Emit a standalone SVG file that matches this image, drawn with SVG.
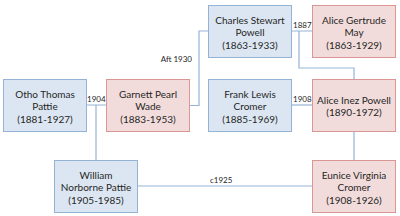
<svg xmlns="http://www.w3.org/2000/svg" width="400" height="216" viewBox="0 0 400 216">
<style>
.m{fill:#dce6f2;stroke:#95b3d7;stroke-width:1}
.f{fill:#f2dcdb;stroke:#d99694;stroke-width:1}
text{font-family:Lato,"Liberation Sans",sans-serif;fill:#262626}
.n{font-size:10px;text-anchor:middle}
.l{font-size:8px}
.c{fill:none;stroke:#95b3d7;stroke-width:1.2}
</style>
<rect width="400" height="216" fill="#ffffff"/>
<g id="connectors">
<path class="c" d="M291 31H312M299 31V68H354V79"/>
<path class="c" d="M189 105.5H199V31H208"/>
<path class="c" d="M86 105H106M96 105V160"/>
<path class="c" d="M291 105H312"/>
<path class="c" d="M354 131.5V160"/>
<path class="c" d="M137 186H312"/>
<text class="l" x="293" y="28">1887</text>
<text class="l" x="87" y="102">1904</text>
<text class="l" x="293" y="102">1908</text>
<text class="l" x="192" y="62" text-anchor="end">Aft 1930</text>
<text class="l" x="210" y="183">c1925</text>
</g>
<g id="charles"><rect class="m" x="208.5" y="5.5" width="83" height="52"/>
<text class="n" x="250" y="23.5">Charles Stewart</text><text class="n" x="250" y="36">Powell</text><text class="n" x="250" y="48.5">(1863-1933)</text></g>
<g id="alicegertrude"><rect class="f" x="312.5" y="5.5" width="83" height="52"/>
<text class="n" x="354" y="23.5">Alice Gertrude</text><text class="n" x="354" y="36">May</text><text class="n" x="354" y="48.5">(1863-1929)</text></g>
<g id="otho"><rect class="m" x="3.5" y="79.5" width="83" height="52"/>
<text class="n" x="45" y="97.5">Otho Thomas</text><text class="n" x="45" y="110">Pattie</text><text class="n" x="45" y="122.5">(1881-1927)</text></g>
<g id="garnett"><rect class="f" x="106.5" y="79.5" width="83" height="52"/>
<text class="n" x="148" y="97.5">Garnett Pearl</text><text class="n" x="148" y="110">Wade</text><text class="n" x="148" y="122.5">(1883-1953)</text></g>
<g id="frank"><rect class="m" x="208.5" y="79.5" width="83" height="52"/>
<text class="n" x="250" y="97.5">Frank Lewis</text><text class="n" x="250" y="110">Cromer</text><text class="n" x="250" y="122.5">(1885-1969)</text></g>
<g id="aliceinez"><rect class="f" x="312.5" y="79.5" width="83" height="52"/>
<text class="n" x="354" y="103.5">Alice Inez Powell</text><text class="n" x="354" y="116">(1890-1972)</text></g>
<g id="william"><rect class="m" x="54.5" y="160.5" width="83" height="52"/>
<text class="n" x="96" y="178.5">William</text><text class="n" x="96" y="191">Norborne Pattie</text><text class="n" x="96" y="203.5">(1905-1985)</text></g>
<g id="eunice"><rect class="f" x="312.5" y="160.5" width="83" height="52"/>
<text class="n" x="354" y="178.5">Eunice Virginia</text><text class="n" x="354" y="191">Cromer</text><text class="n" x="354" y="203.5">(1908-1926)</text></g>
</svg>
